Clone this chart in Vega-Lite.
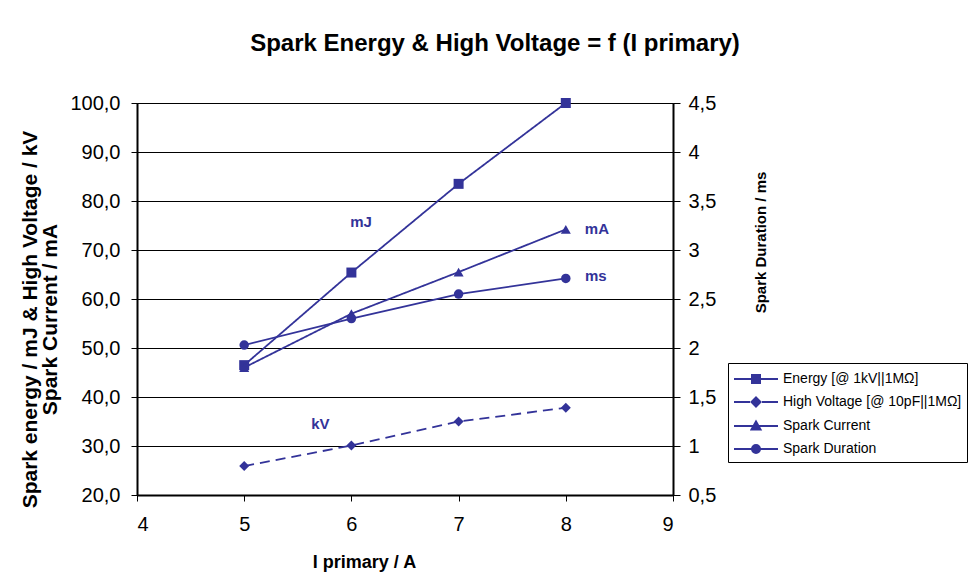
{
  "$schema": "https://vega.github.io/schema/vega-lite/v6.json",
  "width": 536,
  "height": 392,
  "autosize": "none",
  "padding": {"left": 137, "top": 103, "right": 295, "bottom": 82},
  "background": "white",
  "config": {
    "font": "Liberation Sans",
    "view": {"stroke": "black", "strokeWidth": 1}
  },
  "title": {
    "text": "Spark Energy & High Voltage = f (I primary)",
    "font": "Liberation Sans",
    "fontSize": 24,
    "fontWeight": "bold",
    "color": "black",
    "anchor": "middle",
    "frame": "group",
    "dx": 90,
    "offset": 37
  },
  "datasets": {
    "main": [
      {"I": 5, "series": "Energy [@ 1kV||1MΩ]", "value": 46.5},
      {"I": 6, "series": "Energy [@ 1kV||1MΩ]", "value": 65.4},
      {"I": 7, "series": "Energy [@ 1kV||1MΩ]", "value": 83.5},
      {"I": 8, "series": "Energy [@ 1kV||1MΩ]", "value": 100.0},
      {"I": 5, "series": "High Voltage [@ 10pF||1MΩ]", "value": 25.9},
      {"I": 6, "series": "High Voltage [@ 10pF||1MΩ]", "value": 30.1},
      {"I": 7, "series": "High Voltage [@ 10pF||1MΩ]", "value": 35.0},
      {"I": 8, "series": "High Voltage [@ 10pF||1MΩ]", "value": 37.8},
      {"I": 5, "series": "Spark Current", "value": 46.0},
      {"I": 6, "series": "Spark Current", "value": 57.0},
      {"I": 7, "series": "Spark Current", "value": 65.5},
      {"I": 8, "series": "Spark Current", "value": 74.2},
      {"I": 5, "series": "Spark Duration", "value": 2.03},
      {"I": 6, "series": "Spark Duration", "value": 2.30},
      {"I": 7, "series": "Spark Duration", "value": 2.55},
      {"I": 8, "series": "Spark Duration", "value": 2.71}
    ],
    "labels": [
      {"I": 6.09, "value": 75.7, "label": "mJ"},
      {"I": 8.29, "value": 74.3, "label": "mA"},
      {"I": 8.28, "value": 64.7, "label": "ms"},
      {"I": 5.71, "value": 34.5, "label": "kV"}
    ]
  },
  "encoding": {
    "x": {
      "field": "I",
      "type": "quantitative",
      "scale": {"domain": [4, 9], "nice": false, "zero": false},
      "axis": {
        "values": [4, 5, 6, 7, 8, 9],
        "grid": false,
        "domainColor": "black",
        "domainWidth": 2,
        "tickColor": "black",
        "tickSize": 6,
        "labelFontSize": 20,
        "labelColor": "black",
        "labelPadding": 13,
        "title": "I primary / A",
        "titleFontSize": 18,
        "titleFontWeight": "bold",
        "titleColor": "black",
        "titleX": 227,
        "titleY": 67,
        "titleBaseline": "middle",
        "titleAlign": "center"
      }
    }
  },
  "layer": [
    {
      "data": {"name": "main"},
      "transform": [{"filter": "datum.series !== 'Spark Duration'"}],
      "encoding": {
        "y": {
          "field": "value",
          "type": "quantitative",
          "scale": {"domain": [20, 100], "nice": false, "zero": false},
          "axis": {
            "orient": "left",
            "values": [20, 30, 40, 50, 60, 70, 80, 90, 100],
            "labelExpr": "replace(format(datum.value, '.1f'), '.', ',')",
            "grid": true,
            "gridColor": "black",
            "gridWidth": 1,
            "domainColor": "black",
            "domainWidth": 2,
            "tickColor": "black",
            "tickSize": 6,
            "labelFontSize": 20,
            "labelColor": "black",
            "labelPadding": 11,
            "title": ["Spark energy / mJ & High Voltage  / kV", "Spark Current / mA"],
            "titleFontSize": 21,
            "titleFontWeight": "bold",
            "titleColor": "black",
            "titleAngle": 270,
            "titleX": -118,
            "titleY": 216,
            "titleBaseline": "top",
            "titleAlign": "center",
            "titleLineHeight": 20
          }
        }
      },
      "layer": [
        {
          "mark": {"type": "line", "color": "#333399", "strokeWidth": 1.8},
          "encoding": {
            "detail": {"field": "series"},
            "strokeDash": {
              "field": "series",
              "type": "nominal",
              "scale": {
                "domain": ["Energy [@ 1kV||1MΩ]", "High Voltage [@ 10pF||1MΩ]", "Spark Current"],
                "range": [[1, 0], [10, 6], [1, 0]]
              },
              "legend": null
            }
          }
        },
        {
          "mark": {"type": "point", "filled": true, "color": "#333399", "opacity": 1, "size": 100},
          "encoding": {
            "shape": {
              "field": "series",
              "type": "nominal",
              "scale": {
                "domain": ["Energy [@ 1kV||1MΩ]", "High Voltage [@ 10pF||1MΩ]", "Spark Current"],
                "range": ["square", "diamond", "triangle-up"]
              },
              "legend": null
            }
          }
        },
        {
          "data": {"name": "labels"},
          "mark": {"type": "text", "color": "#333399", "fontSize": 15, "fontWeight": "bold", "font": "Liberation Sans"},
          "encoding": {
            "text": {"field": "label"}
          }
        }
      ]
    },
    {
      "data": {"name": "main"},
      "transform": [{"filter": "datum.series === 'Spark Duration'"}],
      "encoding": {
        "y": {
          "field": "value",
          "type": "quantitative",
          "scale": {"domain": [0.5, 4.5], "nice": false, "zero": false},
          "axis": {
            "orient": "right",
            "values": [0.5, 1, 1.5, 2, 2.5, 3, 3.5, 4, 4.5],
            "labelExpr": "replace(format(datum.value, '.1~f'), '.', ',')",
            "grid": false,
            "domainColor": "black",
            "domainWidth": 2,
            "tickColor": "black",
            "tickSize": 7,
            "labelFontSize": 20,
            "labelColor": "black",
            "labelPadding": 8,
            "title": "Spark Duration / ms",
            "titleFontSize": 15,
            "titleFontWeight": "bold",
            "titleColor": "black",
            "titleAngle": 270,
            "titleX": 87,
            "titleY": 139,
            "titleBaseline": "middle",
            "titleAlign": "center"
          }
        }
      },
      "layer": [
        {"mark": {"type": "line", "color": "#333399", "strokeWidth": 1.8}},
        {"mark": {"type": "point", "filled": true, "shape": "circle", "color": "#333399", "opacity": 1, "size": 90}}
      ]
    },
    {
      "data": {"name": "main"},
      "transform": [{"filter": "datum.I === 5"}],
      "mark": {"type": "point", "filled": false, "color": "#333399", "opacity": 0, "strokeWidth": 2},
      "encoding": {
        "shape": {
          "field": "series",
          "type": "nominal",
          "scale": {
            "domain": ["Energy [@ 1kV||1MΩ]", "High Voltage [@ 10pF||1MΩ]", "Spark Current", "Spark Duration"],
            "range": [
              "M-1,0H3.4M0.8,-0.4H1.6V0.4H0.8ZM0.95,-0.25H1.45V0.25H0.95ZM1.1,-0.1H1.3V0.1H1.1Z",
              "M-1,0H0.6M1.8,0H3.4M1.2,-0.45L1.65,0L1.2,0.45L0.75,0ZM1.2,-0.28L1.48,0L1.2,0.28L0.92,0ZM1.2,-0.1L1.3,0L1.2,0.1L1.1,0Z",
              "M-1,0H3.4M1.2,-0.45L1.65,0.35L0.75,0.35ZM1.2,-0.2L1.45,0.25L0.95,0.25ZM1.2,0L1.3,0.18L1.1,0.18Z",
              "M-1,0H3.4M1.6,0A0.4,0.4,0,1,1,0.8,0A0.4,0.4,0,1,1,1.6,0ZM1.45,0A0.25,0.25,0,1,1,0.95,0A0.25,0.25,0,1,1,1.45,0ZM1.3,0A0.1,0.1,0,1,1,1.1,0A0.1,0.1,0,1,1,1.3,0Z"
            ]
          },
          "legend": {
            "title": null,
            "orient": "none",
            "legendX": 591,
            "legendY": 260,
            "padding": 5,
            "strokeColor": "black",
            "fillColor": "white",
            "symbolSize": 400,
            "symbolStrokeColor": "#333399",
            "symbolStrokeWidth": 2,
            "symbolOpacity": 1,
            "labelFontSize": 14,
            "labelColor": "black",
            "labelOffset": 28,
            "rowPadding": 4,
            "labelLimit": 400
          }
        }
      }
    }
  ],
  "resolve": {"scale": {"y": "independent", "shape": "independent", "strokeDash": "independent"}}
}
